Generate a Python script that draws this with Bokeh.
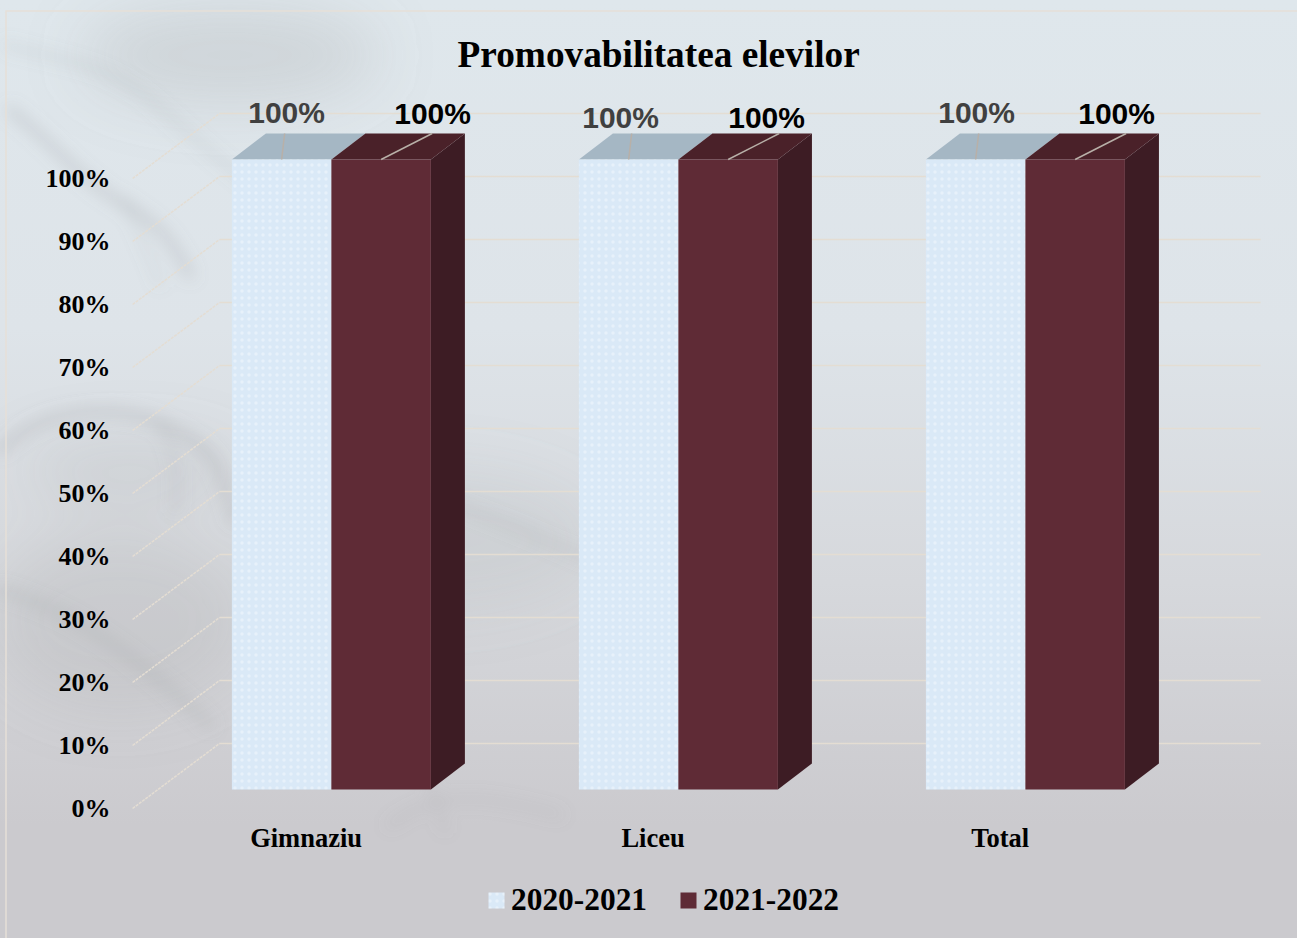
from urllib.parse import quote
from bokeh.plotting import figure
from bokeh.models import LinearAxis, FixedTicker, Range1d, Legend, LegendItem, ColumnDataSource, Title
from bokeh.core.properties import value
from bokeh.embed import file_html
from bokeh.resources import INLINE

categories = ["Gimnaziu", "Liceu", "Total"]
series_names = ["2020-2021", "2021-2022"]
values_2020_2021 = [100, 100, 100]
values_2021_2022 = [100, 100, 100]
y_ticks = list(range(0, 101, 10))

SERIF = "Liberation Serif"
FRONT = ["#dae9f7", "#5f2b36"]
TOPS = ["#a5b7c4", "#4a2129"]
SIDE = "#3d1c24"
GRID = "#e4ddd3"

PX_X = 347.0            # pixels per category
PX_Y = 6.3              # pixels per percent
BAR_W = 99.5 / PX_X
BAR_SHIFT_X, BAR_SHIFT_Y = 25.3 / PX_X, 19 / PX_Y
DEPTH_X, DEPTH_Y = 34 / PX_X, 26 / PX_Y
BACK_X, BACK_Y = 87 / PX_X, 65 / PX_Y
LABEL_DY = [[-21, -20], [-16, -16], [-21, -20]]
LABEL_DX = [[-78.8, 67.2], [-91.8, 54.2], [-82.8, 57.2]]

# page backdrop: soft photographic branches and the faint chart-area border
backdrop_svg = """<svg xmlns='http://www.w3.org/2000/svg' width='1297' height='938'>
<defs><filter id='b' x='-20%' y='-20%' width='140%' height='140%'><feGaussianBlur stdDeviation='8'/></filter>
<filter id='c' x='-30%' y='-30%' width='160%' height='160%'><feGaussianBlur stdDeviation='30'/></filter></defs>
<g filter='url(#c)' fill='#8f9092'>
<ellipse cx='230' cy='55' rx='150' ry='50' opacity='.2'/>
<ellipse cx='120' cy='620' rx='130' ry='90' opacity='.16'/>
<ellipse cx='430' cy='540' rx='170' ry='70' opacity='.12'/>
<ellipse cx='130' cy='470' rx='110' ry='30' opacity='.16'/>
</g>
<g filter='url(#b)' fill='none' stroke='#8a8c8e' stroke-linecap='round'>
<path d='M5 45 C60 60 110 65 150 100 S230 170 270 200' stroke-width='7' opacity='.16'/>
<path d='M10 110 C50 140 80 180 125 205 S175 250 190 275' stroke-width='9' opacity='.26'/>
<path d='M125 200 C135 225 150 255 160 285' stroke-width='5' opacity='.16'/>
<path d='M0 450 C40 410 110 400 165 425 S220 470 235 520' stroke-width='9' opacity='.26'/>
<path d='M160 425 C175 450 180 475 175 510' stroke-width='6' opacity='.18'/>
<path d='M0 590 C70 610 130 650 210 725' stroke-width='11' opacity='.16'/>
<path d='M300 440 C380 480 480 510 590 560' stroke-width='10' opacity='.12'/>
<path d='M390 825 C430 795 470 790 560 815' stroke-width='8' opacity='.12'/>
<path d='M400 720 C420 760 435 790 445 830' stroke-width='7' opacity='.1'/>
</g>
<g fill='none' stroke='#e6e0d8' stroke-width='1.5'>
<path d='M1297 11 H6 V938'/>
</g></svg>"""
backdrop_uri = "data:image/svg+xml," + quote(backdrop_svg.replace("\n", ""))

FRAME_TOP, FRAME_BOTTOM, ZERO_Y = 90, 925, 808
p = figure(frame_width=1184, frame_height=FRAME_BOTTOM - FRAME_TOP, width=1297, height=938,
           x_range=Range1d(-0.555, 2.857), y_range=Range1d(-(FRAME_BOTTOM - ZERO_Y) / PX_Y, (ZERO_Y - FRAME_TOP) / PX_Y),
           output_backend="svg", toolbar_location=None,
           min_border_left=113, min_border_right=0, min_border_top=FRAME_TOP, min_border_bottom=938 - FRAME_BOTTOM,
           background_fill_color=None, border_fill_color=None, outline_line_color=None,
           x_axis_type=None, y_axis_type=None)
p.styles = {"background": f'url("{backdrop_uri}"), linear-gradient(180deg, #dfe7ec 0%, #dee4e9 35%, #d6d8dc 62%, #cbcace 88%, #cbcace 100%)'}

p.title = Title(text="Promovabilitatea elevilor", text_font=SERIF, text_font_size="37.3px",
                text_font_style="bold", text_color="black", align="left", offset=344, standoff=31)

# back wall and left wall gridlines
back_x0 = -0.5 + BACK_X
back_x1 = 2.5 + BACK_X
p.multi_line([[back_x0, back_x1] for _ in y_ticks], [[t + BACK_Y] * 2 for t in y_ticks],
             line_color=GRID, line_width=1.5)
p.multi_line([[-0.5, back_x0] for _ in y_ticks], [[t, t + BACK_Y] for t in y_ticks],
             line_color=GRID, line_width=1.5, line_dash="3 1")

all_values = [values_2020_2021, values_2021_2022]
legend_items = []
for s, (name, vals) in enumerate(zip(series_names, all_values)):
    left = [i + BAR_SHIFT_X - BAR_W + s * BAR_W for i in range(3)]
    right = [l + BAR_W for l in left]
    bottom = [BAR_SHIFT_Y] * 3
    top = [BAR_SHIFT_Y + v for v in vals]
    if s == 1:
        p.patches([[r, r + DEPTH_X, r + DEPTH_X, r] for r in right],
                  [[b, b + DEPTH_Y, t + DEPTH_Y, t] for b, t in zip(bottom, top)],
                  fill_color=SIDE, line_color=None)
    p.patches([[l, l + DEPTH_X, r + DEPTH_X, r] for l, r in zip(left, right)],
              [[t, t + DEPTH_Y, t + DEPTH_Y, t] for t in top],
              fill_color=TOPS[s], line_color=None)
    style = dict(hatch_pattern="dot", hatch_color="#ffffff", hatch_alpha=0.35, hatch_scale=7, hatch_weight=2) if s == 0 else {}
    bars = p.quad(left=left, right=right, bottom=bottom, top=top, fill_color=FRONT[s], line_color=None, **style)
    legend_items.append(LegendItem(label=name, renderers=[bars]))

    # leader lines of the data labels
    mid = [(l + r) / 2 for l, r in zip(left, right)]
    lead_dx = [3 / PX_X, 51 / PX_X][s]
    p.segment(x0=mid, y0=top, x1=[m + lead_dx for m in mid], y1=[t + DEPTH_Y for t in top],
              line_color="#b8b0a8", line_width=1.5)

    src = ColumnDataSource(dict(
        x=[i + BAR_SHIFT_X + DEPTH_X for i in range(3)],
        y=[t + DEPTH_Y for t in top],
        text=[f"{v}%" for v in vals],
        xo=[LABEL_DX[i][s] for i in range(3)],
        yo=[LABEL_DY[i][s] for i in range(3)]))
    p.text("x", "y", "text", source=src, x_offset="xo", y_offset="yo",
           text_font=value("Liberation Sans"), text_font_style="bold", text_font_size="30px",
           text_align="center", text_baseline="middle", text_color=["#404040", "#000000"][s])

yaxis = LinearAxis(ticker=FixedTicker(ticks=y_ticks),
                   major_label_overrides={t: f"{t}%" for t in y_ticks},
                   axis_line_color=None, major_tick_line_color=None, minor_tick_line_color=None,
                   major_tick_out=0, major_tick_in=0,
                   major_label_text_font=SERIF, major_label_text_font_size="26px",
                   major_label_text_font_style="bold", major_label_text_color="black",
                   major_label_standoff=3)
p.add_layout(yaxis, "left")
xaxis = LinearAxis(ticker=FixedTicker(ticks=[0, 1, 2]),
                   major_label_overrides={i: c for i, c in enumerate(categories)},
                   axis_line_color=None, major_tick_line_color=None, minor_tick_line_color=None,
                   major_tick_out=0, major_tick_in=0,
                   major_label_text_font=SERIF, major_label_text_font_size="26.5px",
                   major_label_text_font_style="bold", major_label_text_color="black",
                   major_label_standoff=-103)
p.add_layout(xaxis, "below")

legend = Legend(items=legend_items, orientation="horizontal", location=(373, 7),
                background_fill_alpha=0, border_line_color=None,
                label_text_font=SERIF, label_text_font_size="31.4px", label_text_font_style="bold",
                label_text_color="black", glyph_width=20, glyph_height=20, spacing=31,
                label_standoff=5, margin=0, padding=0)
p.add_layout(legend, "center")

open("out.html", "w").write(file_html(p, INLINE))
